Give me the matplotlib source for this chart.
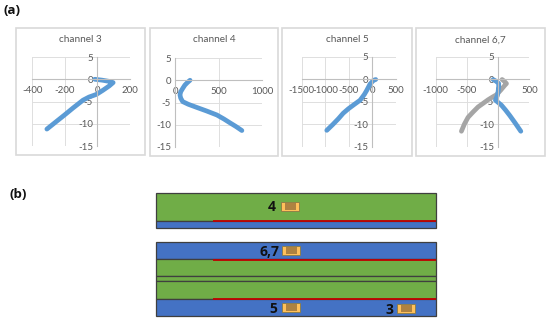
import matplotlib
matplotlib.use('Agg')
import matplotlib.pyplot as plt
from matplotlib.patches import Rectangle

plt.rcParams['font.family'] = ['Lato', 'DejaVu Sans']
plt.rcParams['axes.unicode_minus'] = False

W, H = 550, 321

# channel curves
ch3_x = [-15, 30, 70, 99, 75, 35, -4, -50, -87, -150, -200, -250, -310]
ch3_y = [0, -0.2, -0.45, -0.75, -1.5, -2.5, -3.4, -4.0, -4.7, -6.5, -8.0, -9.45, -11.2]

ch4_x = [170, 140, 110, 85, 62, 54, 62, 85, 150, 247, 360, 479, 560, 633, 700, 768]
ch4_y = [0, -0.5, -1.1, -1.85, -2.6, -3.3, -4.0, -4.8, -5.4, -6.1, -6.9, -7.8, -8.7, -9.6, -10.4, -11.3]

ch5_x = [70, 20, -14, -50, -90, -120, -170, -261, -380, -509, -620, -720, -840, -968]
ch5_y = [0, -0.2, -0.6, -1.0, -1.8, -2.4, -3.3, -4.6, -5.5, -6.5, -7.5, -8.7, -10.0, -11.3]

ch67_x = [-80, -30, 10, 8, 0, -10, -43, 53, 120, 187, 275, 364]
ch67_y = [0, -0.4, -0.9, -1.8, -2.7, -3.5, -4.6, -5.7, -6.8, -8.0, -9.7, -11.5]

ch67_grey_x = [64, 100, 134, 107, 40, -27, -90, -160, -240, -321, -400, -481, -540, -588]
ch67_grey_y = [0, -0.4, -0.9, -1.3, -2.4, -3.4, -3.9, -4.5, -5.3, -6.1, -7.2, -8.4, -9.9, -11.5]

y_ticks = [-15, -10, -5, 0, 5]
ch3_xticks = [-400, -200, 0, 200]
ch4_xticks = [0, 500, 1000]
ch5_xticks = [-1500, -1000, -500, 0, 500]
ch67_xticks = [-1000, -500, 0, 500]

BLUE = '#5B9BD5'
GREY = '#A5A5A5'
TEXT = '#595959'
GRID = '#DEDEDE'
LAYER_GREEN = '#70AD47'
LAYER_BLUE = '#4472C4'
EDGE = '#3F3F3F'
RED = '#C00000'
BOLD_FONT = ['Open Sans', 'DejaVu Sans']

fig = plt.figure(figsize=(W / 100, H / 100), dpi=100)

# full figure axes in pixel units for frames and the stackup sketch
bg = fig.add_axes([0, 0, 1, 1])
bg.set_xlim(0, W)
bg.set_ylim(H, 0)
bg.axis('off')


def draw_panel(frame, area, title, xticks, curves):
    x0, y0, x1, y1 = frame
    bg.add_patch(Rectangle((x0, y0), x1 - x0, y1 - y0, fc='white', ec='#D9D9D9', lw=1.2))
    bg.text((x0 + x1) / 2, y0 + 12, title, color=TEXT, fontsize=7.2, ha='center', va='center')
    a0, b0, a1, b1 = area
    ax = fig.add_axes([a0 / W, 1 - b1 / H, (a1 - a0) / W, (b1 - b0) / H])
    ax.patch.set_alpha(0)
    ax.set_xlim(xticks[0], xticks[-1])
    ax.set_ylim(-15, 5)
    ax.set_xticks(xticks)
    ax.set_yticks(y_ticks)
    ax.grid(color=GRID, lw=0.7)
    ax.set_axisbelow(True)
    for side in ['top', 'right']:
        ax.spines[side].set_visible(False)
    ax.spines['left'].set_position(('data', 0))
    ax.spines['bottom'].set_position(('data', 0))
    ax.spines['left'].set_color('#BFBFBF')
    ax.spines['bottom'].set_color('#BFBFBF')
    ax.tick_params(length=0, labelsize=7, labelcolor=TEXT)
    ax.tick_params(axis='x', pad=5)
    ax.tick_params(axis='y', pad=3)
    for xs, ys, col in curves:
        ax.plot(xs, ys, color=col, lw=3.4, solid_capstyle='round', solid_joinstyle='round', clip_on=False)


draw_panel((16, 28, 145, 155), (32.3, 57, 129.5, 146), 'channel 3', ch3_xticks,
           [(ch3_x, ch3_y, BLUE)])
draw_panel((150, 28, 278, 156), (175.3, 58, 262, 147), 'channel 4', ch4_xticks,
           [(ch4_x, ch4_y, BLUE)])
draw_panel((282, 28, 412, 156), (301.7, 57, 396, 147), 'channel 5', ch5_xticks,
           [(ch5_x, ch5_y, BLUE)])
draw_panel((416, 28, 545, 156), (435.7, 57, 529.3, 147), 'channel 6,7', ch67_xticks,
           [(ch67_grey_x, ch67_grey_y, GREY), (ch67_x, ch67_y, BLUE)])

bg.text(3, 10.5, '(a)', fontsize=9.5, fontweight='bold', family=BOLD_FONT, color='#111111', va='center')
bg.text(9, 194, '(b)', fontsize=9.5, fontweight='bold', family=BOLD_FONT, color='#111111', va='center')

# stackup sketch: (top, bottom, colour)
stack_left = 156
stack_right = 436
red_start = 213
top_layers = [(193, 221, LAYER_GREEN), (221, 228, LAYER_BLUE)]
bottom_layers = [(242, 259, LAYER_BLUE), (259, 276, LAYER_GREEN), (276, 281, LAYER_GREEN),
                 (281, 299, LAYER_GREEN), (299, 316, LAYER_BLUE)]
red_lines = [221, 259.5, 298.7]
part_labels = ['4', '6,7', '5', '3']
part_boxes = [(281, 202), (282, 246), (282, 303), (397, 304)]
label_right = [276, 279, 277, 393]
label_y = [207, 252, 309, 310]

for layers in [top_layers, bottom_layers]:
    for top, bot, col in layers:
        bg.add_patch(Rectangle((stack_left, top), stack_right - stack_left, bot - top,
                               fc=col, ec=EDGE, lw=0.9))
for y in red_lines:
    bg.plot([red_start, stack_right], [y, y], color=RED, lw=1.3, solid_capstyle='butt')

for (px, py), name, lx, ly in zip(part_boxes, part_labels, label_right, label_y):
    bg.add_patch(Rectangle((px, py), 18, 9, fc='#FFC05A', ec='#8A7A45', lw=0.6))
    bg.add_patch(Rectangle((px + 3.5, py + 0.8), 11.5, 7.4, fc='#AE8241', ec='none'))
    bg.text(lx, ly, name, fontsize=10, fontweight='bold', family=BOLD_FONT, color='#111111', ha='right', va='center')

fig.savefig('out.png', dpi=100)
